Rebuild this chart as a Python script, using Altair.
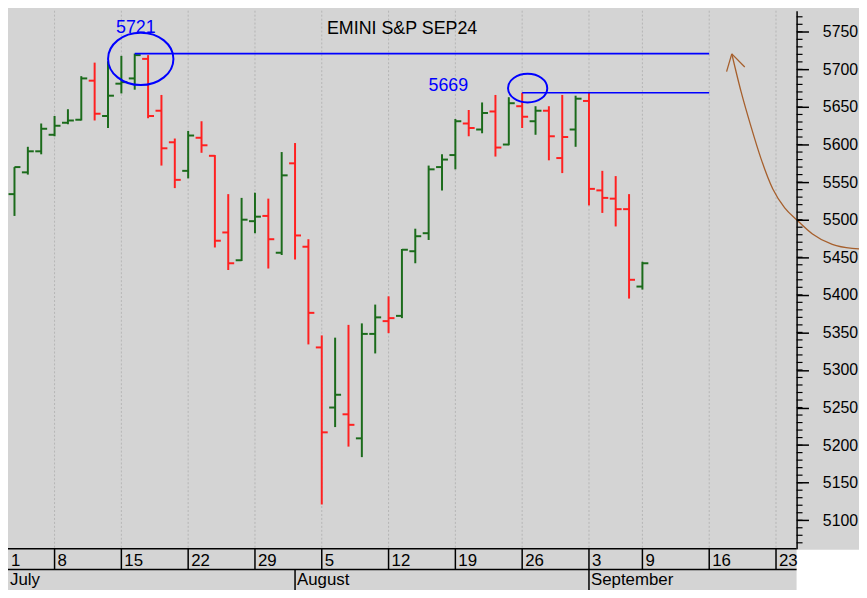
import altair as alt
import pandas as pd

# ---------------- data ----------------
bar_dates = [
    "2024-07-02", "2024-07-03", "2024-07-05", "2024-07-08", "2024-07-09", "2024-07-10",
    "2024-07-11", "2024-07-12", "2024-07-15", "2024-07-16", "2024-07-17", "2024-07-18",
    "2024-07-19", "2024-07-22", "2024-07-23", "2024-07-24", "2024-07-25", "2024-07-26",
    "2024-07-29", "2024-07-30", "2024-07-31", "2024-08-01", "2024-08-02", "2024-08-05",
    "2024-08-06", "2024-08-07", "2024-08-08", "2024-08-09", "2024-08-12", "2024-08-13",
    "2024-08-14", "2024-08-15", "2024-08-16", "2024-08-19", "2024-08-20", "2024-08-21",
    "2024-08-22", "2024-08-23", "2024-08-26", "2024-08-27", "2024-08-28", "2024-08-29",
    "2024-08-30", "2024-09-03", "2024-09-04", "2024-09-05", "2024-09-06", "2024-09-09",
]
opens = [5534, 5563, 5591, 5613, 5629, 5633, 5685, 5638, 5681, 5688, 5714, 5645,
         5603, 5565, 5609, 5585, 5483, 5446, 5498, 5505, 5456, 5575, 5464, 5330,
         5250, 5241, 5209, 5348, 5365, 5372, 5458, 5482, 5570, 5586, 5628, 5620,
         5644, 5600, 5651, 5631, 5645, 5582, 5620, 5658, 5539, 5528, 5514, 5411]
highs = [5570, 5597, 5628, 5638, 5647, 5691, 5709, 5711, 5718, 5721, 5719, 5666,
         5608, 5618, 5631, 5586, 5534, 5529, 5536, 5528, 5590, 5602, 5474, 5346,
         5343, 5360, 5362, 5387, 5398, 5461, 5488, 5572, 5587, 5634, 5646, 5656,
         5666, 5663, 5669, 5651, 5651, 5666, 5665, 5669, 5565, 5558, 5534, 5444]
lows = [5505, 5560, 5587, 5611, 5627, 5632, 5632, 5622, 5668, 5673, 5635, 5572,
        5542, 5555, 5589, 5463, 5433, 5445, 5482, 5435, 5453, 5447, 5334, 5121,
        5224, 5198, 5184, 5322, 5349, 5369, 5442, 5473, 5539, 5567, 5611, 5615,
        5584, 5599, 5622, 5613, 5579, 5562, 5597, 5519, 5509, 5491, 5395, 5407]
closes = [5570, 5591, 5621, 5625, 5632, 5688, 5641, 5665, 5683, 5719, 5638, 5595,
          5553, 5612, 5599, 5472, 5442, 5500, 5504, 5474, 5559, 5479, 5376, 5217,
          5267, 5227, 5348, 5370, 5369, 5460, 5478, 5567, 5580, 5631, 5622, 5642,
          5596, 5655, 5637, 5645, 5611, 5610, 5661, 5541, 5529, 5514, 5420, 5442]

week_dates = ["2024-07-01", "2024-07-08", "2024-07-15", "2024-07-22", "2024-07-29",
              "2024-08-05", "2024-08-12", "2024-08-19", "2024-08-26", "2024-09-03",
              "2024-09-09", "2024-09-16", "2024-09-23"]
week_labels = ["1", "8", "15", "22", "29", "5", "12", "19", "26", "3", "9", "16", "23"]
month_dates = ["2024-07-01", "2024-08-01", "2024-09-03"]
month_labels = ["July", "August", "September"]

y_major = list(range(5100, 5751, 50))
y_minor = list(range(5070, 5771, 10))

level_values = [5721, 5669]
level_starts = ["2024-07-16", "2024-08-26"]
level_end = "2024-09-16"

title_text = "EMINI S&P SEP24"

# ---------------- trading calendar (session index) ----------------
holidays = {"2024-07-04", "2024-09-02"}
cal = [d.strftime("%Y-%m-%d") for d in pd.bdate_range("2024-07-01", "2024-09-30")
       if d.strftime("%Y-%m-%d") not in holidays]
pos = {d: i for i, d in enumerate(cal)}

X_MIN, X_MAX = 0.515, 59.54

df = pd.DataFrame({"date": bar_dates, "open": opens, "high": highs,
                   "low": lows, "close": closes})
df["idx"] = df["date"].map(pos)
prev = df["close"].shift(1)
df["dir"] = ["up" if (pd.isna(p) or c > p) else "down" for c, p in zip(df["close"], prev)]

weeks = pd.DataFrame({"idx": [pos[d] for d in week_dates], "label": week_labels})
weeks["lx"] = [max(i, X_MIN) for i in weeks["idx"]]
months = pd.DataFrame({"idx": [pos[d] for d in month_dates], "label": month_labels})
# labels start at the first visible session when the period begins off-chart
months["lx"] = [max(i, X_MIN) for i in months["idx"]]
minor = pd.DataFrame({"v": y_minor})
levels = pd.DataFrame({"idx": [pos[d] for d in level_starts],
                       "idx2": [pos[level_end]] * 2, "v": level_values})

# annotation placements (session index / price space)
texts = pd.DataFrame({
    "idx": [8.6, 31.99, 24.39],
    "v": [5749.0, 5671.0, 5747.0],
    "t": ["5721", "5669", title_text],
    "c": ["blue", "blue", "black"],
})
ell1 = pd.DataFrame({"idx": [10.45], "v": [5714.0]})
ell2 = pd.DataFrame({"idx": [39.41], "v": [5675.0]})
arrow_curve = pd.DataFrame({
    "idx": [54.69, 55.39, 56.13, 56.87, 57.76, 58.65, 59.54, 60.73, 62.21, 63.70, 65.18],
    "v": [5720.7, 5670.0, 5623.8, 5581.6, 5540.8, 5515.8, 5500.0, 5481.0, 5467.0, 5461.7, 5460.4],
})
arrow_curve["s"] = range(len(arrow_curve))
arrow_head = pd.DataFrame({"idx": [54.69, 54.69], "v": [5720.7, 5720.7],
                           "idx2": [54.30, 55.66], "v2": [5697.1, 5703.2]})
dummy = pd.DataFrame({"a": [0]})

# ---------------- layout ----------------
W, H = 796, 543
GRAY = "#d4d4d4"
GREEN = "#1b6b1b"
RED = "#ff2020"
BLUE = "#0000ff"
BROWN = "#a65f2c"
FONT = "Liberation Sans"

xs = alt.Scale(domain=[X_MIN, X_MAX], nice=False, zero=False)
ys = alt.Scale(domain=[5062.2, 5778.1], nice=False, zero=False)
X = alt.X("idx:Q", scale=xs, axis=None)
color = alt.Color("dir:N", scale=alt.Scale(domain=["up", "down"], range=[GREEN, RED]),
                  legend=None)

y_axis = alt.Axis(orient="right", values=y_major, format="d", tickSize=12,
                  tickColor="black", tickWidth=1.5, domainColor="black", domainWidth=1.5,
                  labelFontSize=16, labelFont=FONT, labelColor="black", labelPadding=14,
                  grid=False, title=None, zindex=2)


def Y(field):
    return alt.Y(field, scale=ys, axis=y_axis)


grid = alt.Chart(weeks).mark_rule(color="#b5b5b5", strokeDash=[2, 2], strokeWidth=1).encode(x=X)

hl = alt.Chart(df).mark_rule(strokeWidth=2).encode(
    x=X, y=Y("low:Q"), y2="high:Q", color=color)
op = alt.Chart(df).mark_rule(strokeWidth=2, xOffset=-6).encode(
    x=X, x2="idx:Q", y=Y("open:Q"), color=color)
cl = alt.Chart(df).mark_rule(strokeWidth=2, x2Offset=6).encode(
    x=X, x2="idx:Q", y=Y("close:Q"), color=color)

minor_ticks = alt.Chart(minor).mark_rule(color="black", strokeWidth=1.2).encode(
    x=alt.value(W), x2=alt.value(W + 6), y=Y("v:Q"))

lvl = alt.Chart(levels).mark_rule(color=BLUE, strokeWidth=1.6).encode(
    x=X, x2="idx2:Q", y=Y("v:Q"))

e1 = alt.Chart(ell1).mark_point(
    shape="M -1 0 A 1 0.8 0 1 1 1 0 A 1 0.8 0 1 1 -1 0 Z", size=4356, filled=False,
    stroke=BLUE, strokeWidth=2, opacity=1).encode(x=X, y=Y("v:Q"))
e2 = alt.Chart(ell2).mark_point(
    shape="M -1 0 A 1 0.73 0 1 1 1 0 A 1 0.73 0 1 1 -1 0 Z", size=1568, filled=False,
    stroke=BLUE, strokeWidth=2, opacity=1).encode(x=X, y=Y("v:Q"))

ann = alt.Chart(texts).mark_text(align="left", baseline="alphabetic", fontSize=18,
                                 font=FONT).encode(
    x=X, y=Y("v:Q"), text="t:N", color=alt.Color("c:N", scale=None))

curve = alt.Chart(arrow_curve).mark_line(color=BROWN, strokeWidth=1.3,
                                         interpolate="monotone").encode(
    x=X, y=Y("v:Q"), order="s:Q")
head = alt.Chart(arrow_head).mark_rule(color=BROWN, strokeWidth=1.3).encode(
    x=X, x2="idx2:Q", y=Y("v:Q"), y2="v2:Q")

# bottom date band
corner = alt.Chart(dummy).mark_rect(color="white").encode(
    x=alt.value(W), x2=alt.value(W + 80), y=alt.value(H + 1), y2=alt.value(H + 60))
base_line = alt.Chart(dummy).mark_rule(color="black", strokeWidth=1.5).encode(
    x=alt.value(0), x2=alt.value(W), y=alt.value(H))
mid_line = alt.Chart(dummy).mark_rule(color="black", strokeWidth=1.5).encode(
    x=alt.value(0), x2=alt.value(W), y=alt.value(H + 21))
wk_sep = alt.Chart(weeks).mark_rule(color="black", strokeWidth=1.5).encode(
    x=X, y=alt.value(H), y2=alt.value(H + 21))
wk_txt = alt.Chart(weeks).mark_text(align="left", baseline="alphabetic", dx=3,
                                    fontSize=17, font=FONT, color="black").encode(
    x=alt.X("lx:Q", scale=xs, axis=None), y=alt.value(H + 18), text="label:N")
mo_sep = alt.Chart(months).mark_rule(color="black", strokeWidth=1.5).encode(
    x=X, y=alt.value(H + 21), y2=alt.value(H + 50))
mo_txt = alt.Chart(months).mark_text(align="left", baseline="alphabetic", dx=2,
                                     fontSize=17, font=FONT, color="black").encode(
    x=alt.X("lx:Q", scale=xs, axis=None), y=alt.value(H + 37), text="label:N")

chart = alt.layer(
    grid, hl, op, cl, minor_ticks, lvl, e1, e2, ann, curve, head,
    corner, base_line, mid_line, wk_sep, wk_txt, mo_sep, mo_txt,
).properties(
    width=W, height=H,
    autosize=alt.AutoSizeParams(type="none"),
    padding={"left": 0, "top": 0, "right": 63, "bottom": 39},
    background=GRAY,
).configure_view(fill=GRAY, stroke=None)

chart.save("out.html", embed_options={"renderer": "svg", "actions": False})
